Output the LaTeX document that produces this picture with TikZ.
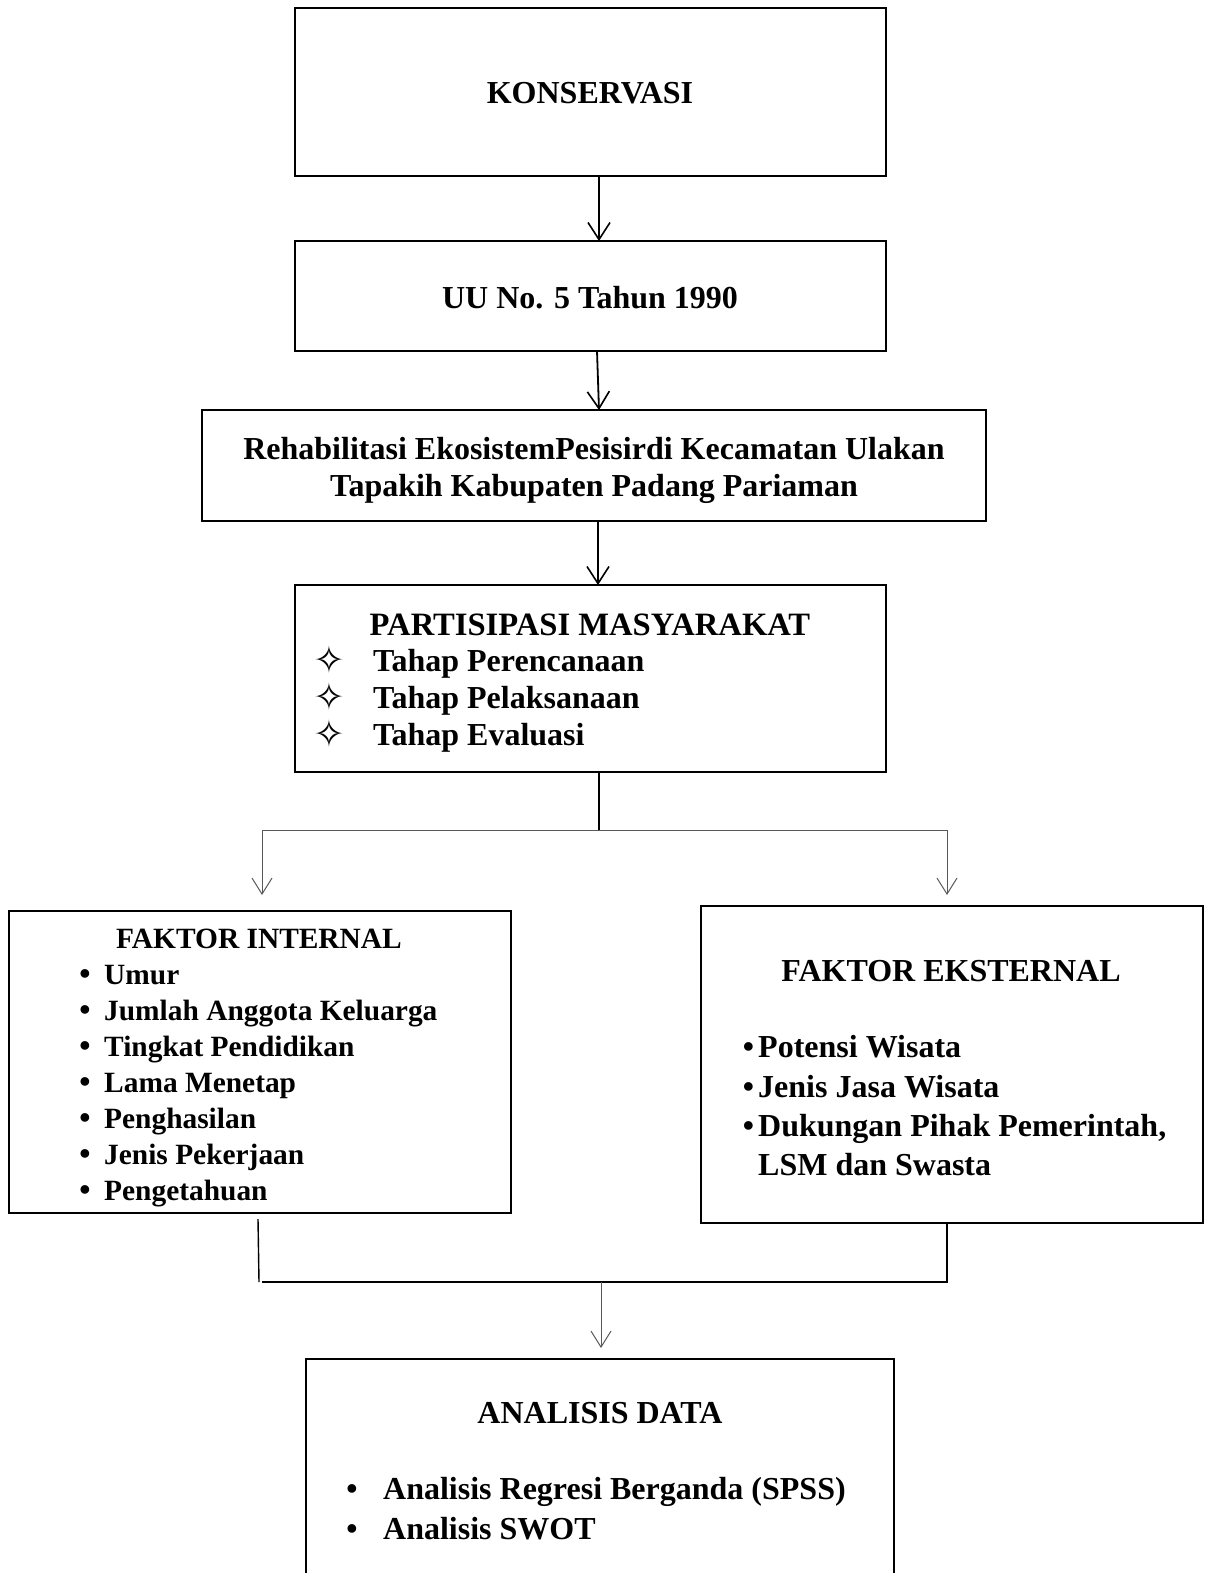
\documentclass[tikz,border=0pt]{standalone}
\usepackage{fontspec}
\setmainfont{Liberation Serif}
\newfontfamily\symfont{DejaVu Sans}
\usetikzlibrary{arrows.meta}
\tikzset{
  boxline/.style={draw=black, line width=1.4pt},
  txt/.style={font=\fontsize{32}{36.5}\selectfont\bfseries, inner sep=0pt, anchor=base},
  txtl/.style={txt, anchor=base west},
  smalltxt/.style={font=\fontsize{29.4}{36}\selectfont\bfseries, inner sep=0pt, anchor=base},
  smalltxtl/.style={smalltxt, anchor=base west},
  bigarrow/.style={line width=1.8pt, -{Straight Barb[length=17pt,width=22pt,line width=1.6pt]}},
  thinarrow/.style={draw=black!65, line width=1pt, -{Straight Barb[length=16pt,width=20pt,line width=1pt]}},
  thinline/.style={draw=black!65, line width=1pt},
  darkline/.style={draw=black, line width=1.4pt},
}
\begin{document}
\begin{tikzpicture}[x=1pt,y=-1pt]
\useasboundingbox (0,0) rectangle (1208,1573);
\clip (0,0) rectangle (1208,1573);
% boxes
\draw[boxline] (295,8) rectangle (886,176);
\draw[boxline] (295,241) rectangle (886,351);
\draw[boxline] (202,410) rectangle (986,521);
\draw[boxline] (295,585) rectangle (886,772);
\draw[boxline] (9,911) rectangle (511,1213);
\draw[boxline] (701,906) rectangle (1203,1223);
\draw[boxline] (306,1580) -- (306,1359) -- (894,1359) -- (894,1580);
% texts
\node[txt] (t1) at (590,104) {KONSERVASI};
\node[txt] (t2) at (590,308) {UU No. 5 Tahun 1990};
\node[txt] (t3a) at (594,459) {Rehabilitasi EkosistemPesisirdi Kecamatan Ulakan};
\node[txt] (t3b) at (594,496) {Tapakih Kabupaten Padang Pariaman};
\node[txt, font=\fontsize{32.6}{36.5}\selectfont\bfseries] (t4) at (590,635) {PARTISIPASI MASYARAKAT};
\foreach \y/\t in {671/Tahap Perencanaan, 708/Tahap Pelaksanaan, 745/Tahap Evaluasi}{
  \node[txt, font=\fontsize{38}{40}\selectfont\symfont] at (329,\y+2) {✧};
  \node[txtl] at (373,\y) {\t};
}
\node[smalltxt] (t5) at (259,948) {FAKTOR INTERNAL};
\foreach \y/\t in {984/Umur, 1020/Jumlah Anggota Keluarga, 1056.5/Tingkat Pendidikan, 1092.5/Lama Menetap, 1128/Penghasilan, 1164/Jenis Pekerjaan, 1200/Pengetahuan}{
  \node[txt] at (85,\y) {•};
  \node[smalltxtl] at (104,\y) {\t};
}
\node[txt] (t6) at (951,981) {FAKTOR EKSTERNAL};
\foreach \y/\t in {1057.5/{Potensi Wisata}, 1097/{Jenis Jasa Wisata}, 1136/{Dukungan Pihak Pemerintah,}}{
  \node[txt] at (748.5,\y) {•};
  \node[txtl] at (758,\y) {\t};
}
\node[txtl] at (758,1175) {LSM dan Swasta};
\node[txt] (t7) at (600,1423) {ANALISIS DATA};
\node[txt] at (352,1499) {•};
\node[txtl] at (383,1499) {Analisis Regresi Berganda (SPSS)};
\node[txt] at (352,1539) {•};
\node[txtl] at (383,1539) {Analisis SWOT};
% connectors
\coordinate (a1s) at (599,176); \coordinate (a1e) at (599,241);
\coordinate (a2s) at (597,351); \coordinate (a2e) at (599,410);
\coordinate (a3s) at (598,521); \coordinate (a3e) at (598,585);
\draw[bigarrow] (a1s) -- (a1e);
\draw[bigarrow] (a2s) -- (a2e);
\draw[bigarrow] (a3s) -- (a3e);
\coordinate (p0) at (599,772); \coordinate (p1) at (599,830);
\coordinate (pl) at (262,830); \coordinate (pr) at (947,830);
\coordinate (il) at (262,895); \coordinate (ir) at (947,895);
\draw[darkline, line width=1.8pt] (p0) -- (p1);
\draw[thinline] (pl) -- (pr);
\draw[thinarrow] (pl) -- (il);
\draw[thinarrow] (pr) -- (ir);
\coordinate (q0) at (258,1219); \coordinate (q1) at (259,1282);
\coordinate (q2) at (947,1282); \coordinate (q3) at (947,1223);
\coordinate (qm) at (601,1282); \coordinate (qe) at (601,1348);
\draw[darkline] (q0) -- (q1);
\draw[darkline] (262,1282) -- (q2) -- (q3);
\draw[thinarrow] (qm) -- (qe);
\end{tikzpicture}
\end{document}
